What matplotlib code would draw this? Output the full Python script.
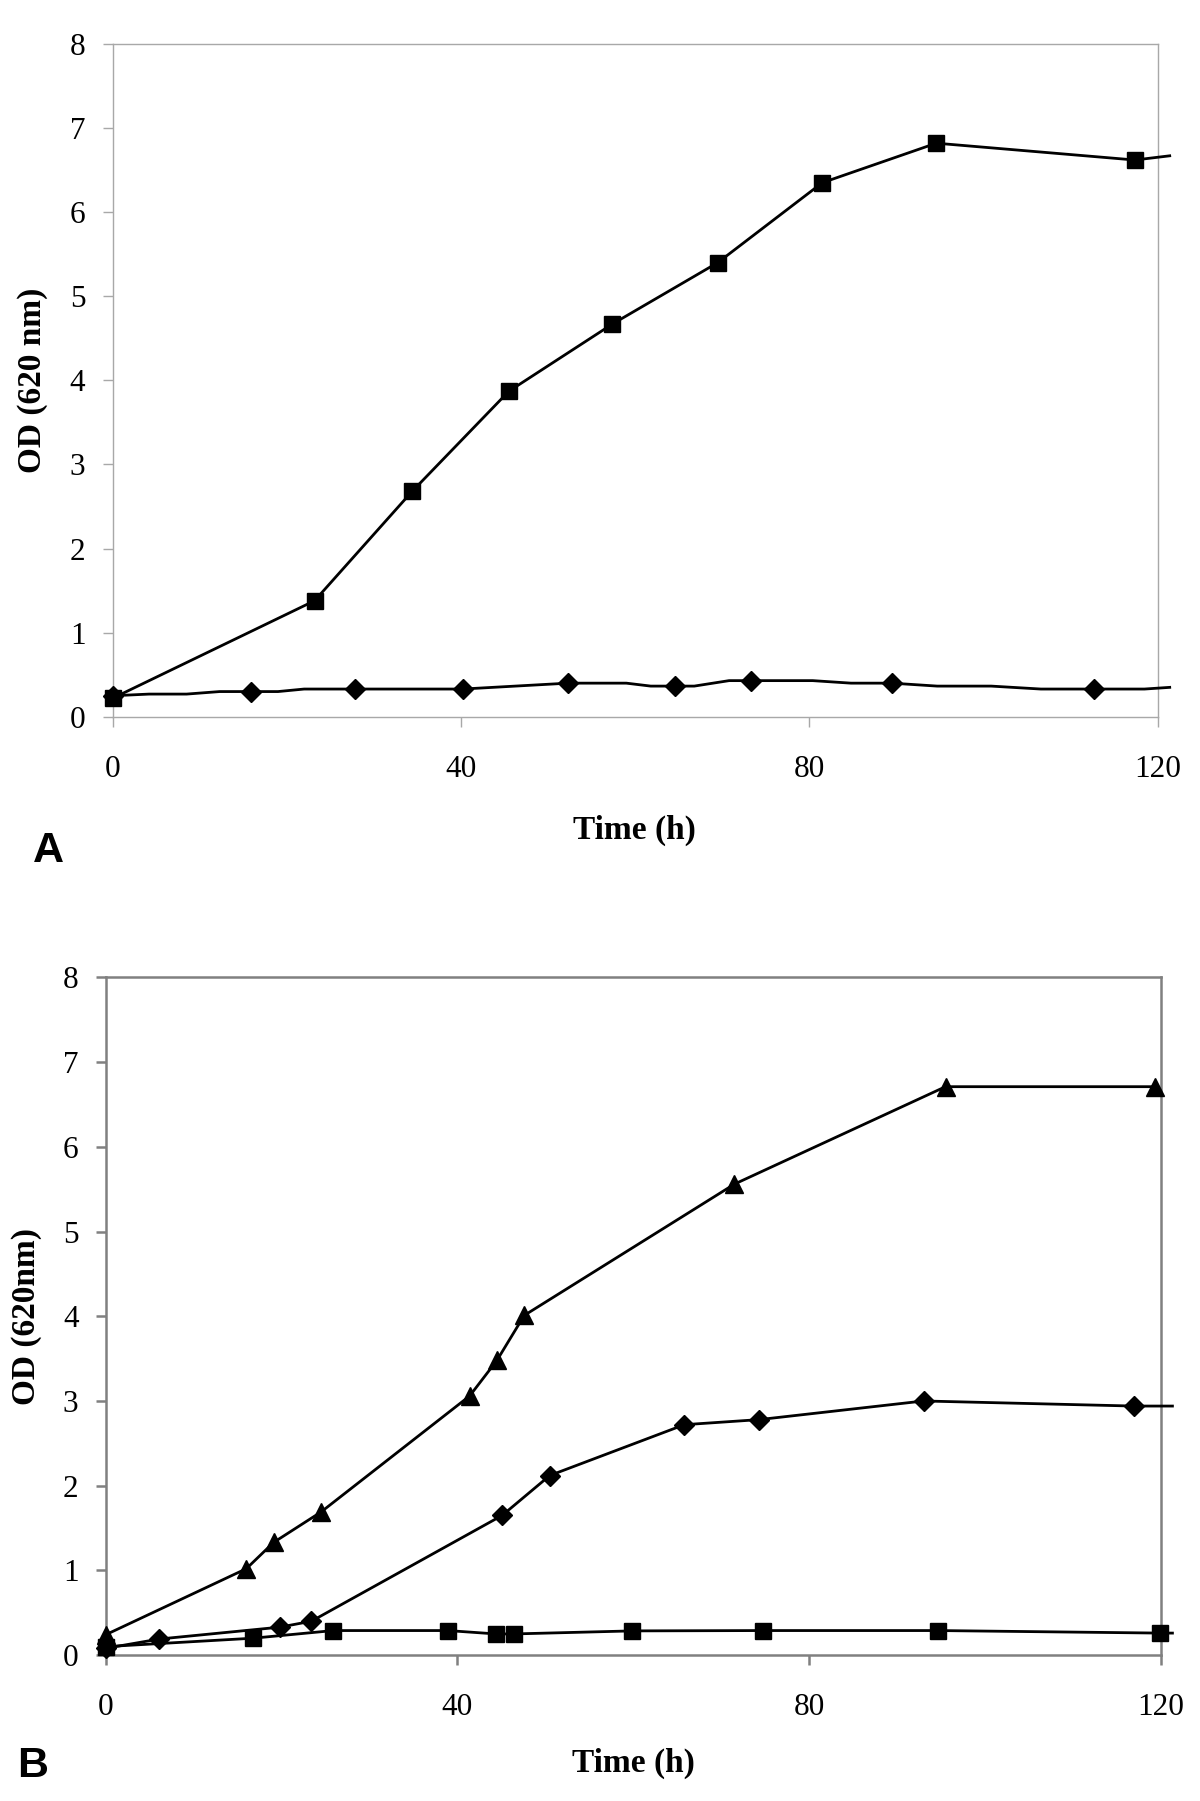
import matplotlib
matplotlib.use("Agg")
import matplotlib.pyplot as plt

matplotlib.rcParams.update({
    "font.family": "Liberation Serif",
    "figure.facecolor": "white",
    "axes.facecolor": "white",
})

# ---------------- panel A ----------------
A_SQ_T = [0, 23.2, 34.4, 45.5, 57.4, 69.5, 81.5, 94.6, 117.4, 121.4]
A_SQ_OD = [0.22, 1.38, 2.68, 3.87, 4.67, 5.40, 6.35, 6.82, 6.62, 6.67]
A_SQ_MARK = list(range(9))

A_DI_T = [0, 4.2, 8.5, 12.3, 15.9, 19.0, 22.0, 27.8, 40.2, 52.3, 59.0, 61.8,
          64.6, 66.8, 70.8, 73.3, 80.4, 84.8, 89.5, 94.7, 100.9, 106.6, 112.7,
          118.5, 121.4]
A_DI_OD = [0.25, 0.27, 0.27, 0.30, 0.30, 0.30, 0.33, 0.33, 0.33, 0.40, 0.40,
           0.365, 0.365, 0.365, 0.43, 0.43, 0.43, 0.40, 0.40, 0.365, 0.365,
           0.33, 0.33, 0.33, 0.35]
A_DI_MARK = [0, 4, 7, 8, 9, 12, 15, 18, 22]

# ---------------- panel B ----------------
B_TR_T = [0, 16.0, 19.1, 24.5, 41.4, 44.5, 47.6, 71.5, 95.5, 119.3]
B_TR_OD = [0.24, 1.02, 1.33, 1.69, 3.06, 3.48, 4.01, 5.56, 6.71, 6.71]

B_DI_T = [0, 6.1, 19.8, 23.4, 45.1, 50.5, 65.8, 74.3, 93.0, 116.9, 121.3]
B_DI_OD = [0.08, 0.19, 0.33, 0.40, 1.65, 2.12, 2.72, 2.78, 3.00, 2.94, 2.94]
B_DI_MARK = list(range(10))

B_SQ_T = [0, 16.8, 25.9, 38.9, 44.4, 46.4, 59.9, 74.8, 94.7, 119.9, 121.3]
B_SQ_OD = [0.10, 0.20, 0.29, 0.29, 0.25, 0.25, 0.286, 0.29, 0.29, 0.26, 0.26]
B_SQ_MARK = list(range(10))

X_TICKS = [0, 40, 80, 120]
Y_TICKS = list(range(9))


def style(ax, frame_color, frame_lw):
    ax.set_xlim(0, 120)
    ax.set_ylim(0, 8)
    ax.set_xticks(X_TICKS)
    ax.set_yticks(Y_TICKS)
    for s in ax.spines.values():
        s.set_color(frame_color)
        s.set_linewidth(frame_lw)
    ax.tick_params(axis="both", direction="out", length=7.5, width=frame_lw,
                   color=frame_color, labelsize=22.5, labelcolor="black")
    ax.tick_params(axis="x", pad=20)
    ax.tick_params(axis="y", pad=12)
    for lab in ax.get_xticklabels() + ax.get_yticklabels():
        lab.set_fontfamily("Liberation Serif")


fig = plt.figure(figsize=(12, 18.01), dpi=100)

axA = fig.add_axes([0.0938, 0.602, 0.9646 - 0.0938, 0.9756 - 0.602])
axA.plot(A_DI_T, A_DI_OD, color="black", lw=2, marker="D", ms=9.7,
         markevery=A_DI_MARK, clip_on=False, zorder=3)
axA.plot(A_SQ_T, A_SQ_OD, color="black", lw=2, marker="s", ms=11.5,
         markevery=A_SQ_MARK, clip_on=False, zorder=4)
style(axA, "#a8a8a8", 1.0)

axB = fig.add_axes([0.088, 0.081, 0.9675 - 0.088, 0.4573 - 0.081])
axB.plot(B_SQ_T, B_SQ_OD, color="black", lw=2, marker="s", ms=11.5,
         markevery=B_SQ_MARK, clip_on=False, zorder=3)
axB.plot(B_DI_T, B_DI_OD, color="black", lw=2, marker="D", ms=9.7,
         markevery=B_DI_MARK, clip_on=False, zorder=4)
axB.plot(B_TR_T, B_TR_OD, color="black", lw=2, marker="^", ms=13.5,
         clip_on=False, zorder=5)
style(axB, "#808080", 1.8)

# axis titles and panel letters
fig.text(0.529, 0.539, "Time (h)", ha="center", va="center",
         fontsize=24, fontweight="bold")
fig.text(0.0275, 0.789, "OD (620 nm)", ha="center", va="center",
         rotation=90, fontsize=24, fontweight="bold")
fig.text(0.040, 0.5275, "A", ha="center", va="center", fontsize=31,
         fontweight="bold", family="Liberation Sans")

fig.text(0.528, 0.021, "Time (h)", ha="center", va="center",
         fontsize=24, fontweight="bold")
fig.text(0.0225, 0.269, "OD (620nm)", ha="center", va="center",
         rotation=90, fontsize=24, fontweight="bold")
fig.text(0.027, 0.0194, "B", ha="center", va="center", fontsize=31,
         fontweight="bold", family="Liberation Sans")

fig.savefig("out.png", dpi=100)
